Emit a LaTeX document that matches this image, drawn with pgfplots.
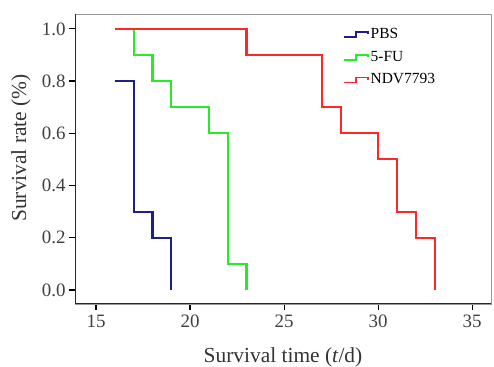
\documentclass[border=0pt]{standalone}
\usepackage{pgfplots}
\pgfplotsset{compat=1.18}
\usepackage{fontspec}
\setmainfont{Liberation Serif}
\definecolor{cpbs}{RGB}{30,30,140}
\definecolor{cfu}{RGB}{40,235,40}
\definecolor{cndv}{RGB}{255,40,40}
\begin{document}
\begin{tikzpicture}
\useasboundingbox (-75bp,-63bp) rectangle (419bp,304bp);
\begin{axis}[
  at={(0,0)}, anchor=south west,
  scale only axis, width=416bp, height=290bp,
  xmin=13.88, xmax=36.0, ymin=-0.054, ymax=1.057,
  xtick={15,20,25,30,35}, ytick={0,0.2,0.4,0.6,0.8,1.0},
  yticklabel style={/pgf/number format/.cd, fixed, fixed zerofill, precision=1},
  /pgf/number format/assume math mode=true,
  xtick pos=left, ytick pos=left, tick align=outside,
  major tick length=6bp,
  tick style={black, line width=1.2pt},
  axis line style={gray!80, line width=0.8pt},
  ticklabel style={font=\fontsize{19}{21}\selectfont, text=black!75},
  xticklabel style={yshift=-1bp},
  xlabel={Survival time (\textit{t}/d)},
  ylabel={Survival rate (\%)},
  label style={font=\fontsize{21.5}{24}\selectfont, text=black!80},
  xlabel style={at={(axis description cs:0.5,0)}, anchor=center, yshift=-53bp},
  ylabel style={at={(axis description cs:0,0.538)}, anchor=center, yshift=54bp},
  legend style={at={(0.644,0.958)}, anchor=north west, draw=none, fill=none,
    font=\fontsize{15.5}{18}\selectfont, row sep=7bp, inner sep=0pt},
  legend cell align=left,
  legend image code/.code={\draw[#1, line width=1.6bp] (0bp,-3bp) -- (12bp,-3bp) -- (12bp,2bp) -- (24bp,2bp) -- (24bp,0bp);},
  every axis plot/.append style={line width=2.1bp, const plot, mark=none},
]
\addplot[cpbs] coordinates {(16,0.8) (17,0.3) (18,0.2) (19,0.0) (19,0.0)};
\addlegendentry{PBS}
\addplot[cfu] coordinates {(16,1.0) (17,0.9) (18,0.8) (19,0.7) (21,0.6) (22,0.1) (23,0.0) (23,0.0)};
\addlegendentry{5-FU}
\addplot[cndv] coordinates {(16,1.0) (23,0.9) (27,0.7) (28,0.6) (30,0.5) (31,0.3) (32,0.2) (33,0.0) (33,0.0)};
\addlegendentry{NDV7793}
\draw[black!85, line width=1.3pt] (rel axis cs:0,1) -- (rel axis cs:0,0) -- (rel axis cs:1,0);
\end{axis}
\end{tikzpicture}
\end{document}
